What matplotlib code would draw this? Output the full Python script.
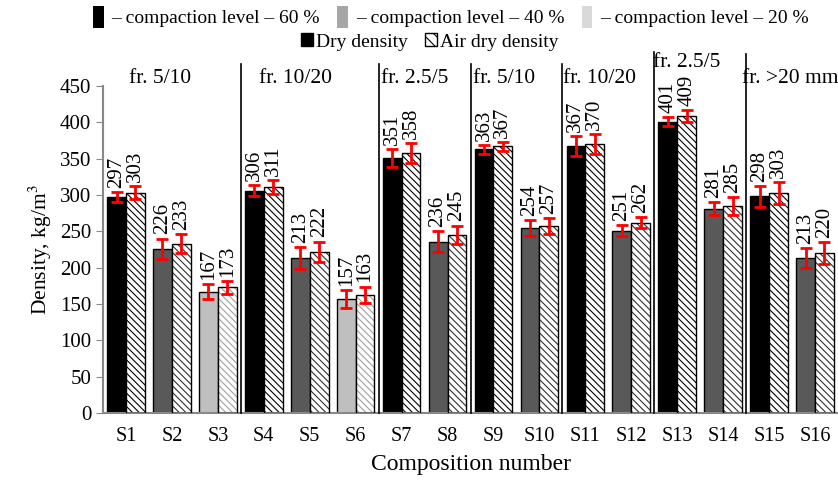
import numpy as np
import matplotlib
matplotlib.use("Agg")
import matplotlib.pyplot as plt
from matplotlib.patches import Patch

plt.rcParams["font.family"] = ["Liberation Serif", "DejaVu Serif"]
plt.rcParams["mathtext.fontset"] = "stix"
plt.rcParams["hatch.linewidth"] = 0.8

samples = ["S1", "S2", "S3", "S4", "S5", "S6", "S7", "S8",
           "S9", "S10", "S11", "S12", "S13", "S14", "S15", "S16"]
compaction = [60, 40, 20, 60, 40, 20, 60, 40, 60, 40, 60, 40, 60, 40, 60, 40]
dry = [297, 226, 167, 306, 213, 157, 351, 236, 363, 254, 367, 251, 401, 281, 298, 213]
air_dry = [303, 233, 173, 311, 222, 163, 358, 245, 367, 257, 370, 262, 409, 285, 303, 220]
dry_err = [7, 14, 10, 8, 15, 12, 12, 14, 6, 11, 14, 8, 6, 9, 14, 14]
air_err = [9, 13, 9, 10, 14, 11, 14, 13, 6, 11, 14, 8, 8, 12, 15, 15]
fractions = ["fr. 5/10", "fr. 10/20", "fr. 2.5/5", "fr. 5/10",
             "fr. 10/20", "fr. 2.5/5", "fr. >20 mm"]

fill_col = {60: "#000000", 40: "#595959", 20: "#bfbfbf"}
hatch_col = {60: "#000000", 40: "#303030", 20: "#a0a0a0"}
HATCH = "\\\\\\\\\\"

fig = plt.figure(figsize=(8.38, 4.83), dpi=100)
ax = fig.add_axes([103/838, 70/483, 735/838, 327/483])

x = np.arange(len(samples))
w = 0.41
dry_x = x - w/2
air_x = x + w/2

ax.bar(dry_x, dry, w, color=[fill_col[c] for c in compaction],
       edgecolor="black", linewidth=1, zorder=2)
ax.bar(air_x, air_dry, w, color="white", edgecolor=[hatch_col[c] for c in compaction],
       hatch=HATCH, linewidth=0, zorder=2)
ax.bar(air_x, air_dry, w, fill=False, edgecolor="black", linewidth=1, zorder=3)

ax.errorbar(dry_x, dry, yerr=dry_err, fmt="none", ecolor="red", elinewidth=2,
            capsize=4, capthick=2, zorder=5)
ax.errorbar(air_x, air_dry, yerr=air_err, fmt="none", ecolor="red", elinewidth=2,
            capsize=4, capthick=2, zorder=5)

for xs, vals, errs in [(dry_x, dry, dry_err), (air_x, air_dry, air_err)]:
    for xi, v, e in zip(xs, vals, errs):
        ax.annotate(str(v), (xi, v + e), xytext=(0, 3), textcoords="offset points",
                    rotation=90, ha="center", va="bottom", fontsize=15)

# group separators and fraction labels
bounds = [2.5, 5.5, 7.5, 9.5, 11.5, 13.5]
tops = [480, 480, 480, 480, 497, 494]
for b, t in zip(bounds, tops):
    ax.plot([b, b], [0, t], color="black", lw=1.2, clip_on=False, zorder=4)

label_x = [0.75, 3.7, 6.28, 8.24, 10.3, 12.2, 14.46]
label_y = [461, 461, 461, 461, 461, 483, 461]
for lx, ly, t in zip(label_x, label_y, fractions):
    ax.text(lx, ly, t, ha="center", va="center", fontsize=15.5)

ax.set_xlim(-0.5, 15.5)
ax.set_ylim(0, 450)
ax.set_yticks(range(0, 451, 50))
ax.set_xticks(x)
ax.set_xticklabels(samples)
ax.tick_params(axis="y", direction="out", length=5, color="#888888", labelsize=15)
ax.tick_params(axis="x", length=0, labelsize=14.5, pad=10)
for s in ["top", "right"]:
    ax.spines[s].set_visible(False)
for s in ["left", "bottom"]:
    ax.spines[s].set_color("#888888")
    ax.spines[s].set_linewidth(1.5)

ax.set_ylabel("Density, kg/m$^3$", fontsize=15.5)
ax.set_xlabel("Composition number", fontsize=17, labelpad=6)

h1 = [Patch(facecolor="#000000"), Patch(facecolor="#a6a6a6"), Patch(facecolor="#d9d9d9")]
l1 = ["– compaction level – 60 %", "– compaction level – 40 %", "– compaction level – 20 %"]
fig.legend(h1, l1, loc="center", bbox_to_anchor=(0.538, 1 - 17/483), ncol=3, frameon=False,
           fontsize=14, handlelength=0.55, handleheight=1.4, handletextpad=0.4,
           columnspacing=0.9, borderpad=0)
h2 = [Patch(facecolor="black", edgecolor="black"),
      Patch(facecolor="white", edgecolor="black", hatch="\\\\\\")]
fig.legend(h2, ["Dry density", "Air dry density"], loc="center",
           bbox_to_anchor=(0.513, 1 - 42/483), ncol=2, frameon=False, fontsize=14,
           handlelength=0.6, handleheight=0.6, handletextpad=0.15, columnspacing=0.9,
           borderpad=0)

fig.savefig("out.png", dpi=100, facecolor="white")
